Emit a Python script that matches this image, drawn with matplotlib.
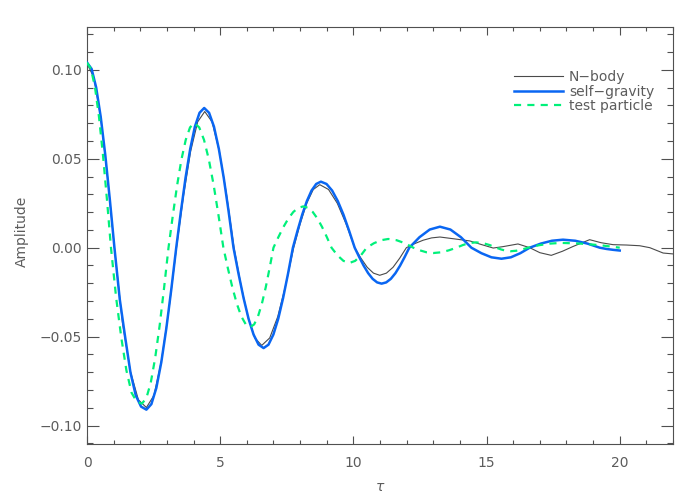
import matplotlib
matplotlib.use("Agg")
import matplotlib.pyplot as plt
from matplotlib.ticker import MultipleLocator, FuncFormatter

# ---- data ----
nbody_tau = [0.0, 0.258, 0.515, 0.773, 1.03, 1.33, 1.63, 1.93, 2.23,
             2.513, 2.795, 3.078, 3.36, 3.625, 3.89, 4.155, 4.42,
             4.695, 4.97, 5.245, 5.52, 5.78, 6.04, 6.30, 6.56,
             6.86, 7.16, 7.46, 7.76, 8.005, 8.25, 8.495, 8.74,
             9.068, 9.395, 9.723, 10.05, 10.285, 10.52, 10.755, 10.99,
             11.24, 11.49, 11.74, 11.99, 12.305, 12.62, 12.935, 13.25,
             13.87, 14.37, 14.8, 15.25, 15.62, 16.18, 16.62, 17.0, 17.43,
             17.85, 18.25, 18.87, 19.3, 19.75, 20.25, 20.75, 21.13, 21.63, 22.0]
nbody_amp = [0.1035, 0.0956, 0.0732, 0.0396, 0.0, -0.0420, -0.0695, -0.0855, -0.0898,
             -0.0830, -0.0635, -0.0344, 0.0, 0.0293, 0.0541, 0.0707, 0.0765,
             0.0707, 0.0541, 0.0293, 0.0, -0.0210, -0.0388, -0.0507, -0.0549,
             -0.0507, -0.0388, -0.0210, 0.0, 0.0135, 0.0250, 0.0327, 0.0354,
             0.0327, 0.0250, 0.0135, 0.0, -0.0059, -0.0110, -0.0143, -0.0155,
             -0.0143, -0.0110, -0.0059, 0.0, 0.0023, 0.0042, 0.0055, 0.0060,
             0.0048, 0.0038, 0.0018, -0.0002, 0.0006, 0.0021, 0.0, -0.0028, -0.0043,
             -0.0020, 0.0007, 0.0045, 0.0028, 0.0017, 0.0015, 0.0011, 0.0, -0.0030, -0.0035]

selfgrav_tau = [0.0, 0.172, 0.343, 0.515, 0.687, 0.858, 1.03,
                1.23, 1.43, 1.63, 1.83, 2.03, 2.23,
                2.417, 2.603, 2.79, 2.977, 3.163, 3.35,
                3.525, 3.70, 3.875, 4.05, 4.225, 4.40,
                4.583, 4.767, 4.95, 5.133, 5.317, 5.50,
                5.688, 5.877, 6.065, 6.253, 6.442, 6.63,
                6.813, 6.997, 7.18, 7.363, 7.547, 7.73,
                7.905, 8.08, 8.255, 8.43, 8.605, 8.78,
                8.992, 9.203, 9.415, 9.627, 9.838, 10.05,
                10.218, 10.387, 10.555, 10.723, 10.892, 11.06,
                11.233, 11.407, 11.58, 11.753, 11.927, 12.1,
                12.483, 12.867, 13.25, 13.643, 14.037, 14.43,
                14.807, 15.183, 15.56, 15.913, 16.267, 16.62,
                17.037, 17.453, 17.87, 18.33, 18.79, 19.25,
                19.5, 19.75, 20.0]
selfgrav_amp = [0.1040, 0.1005, 0.0901, 0.0735, 0.0520, 0.0269, 0.0,
                -0.0290, -0.0500, -0.0700, -0.0830, -0.0893, -0.0910,
                -0.0879, -0.0788, -0.0643, -0.0455, -0.0236, 0.0,
                0.0203, 0.0393, 0.0555, 0.0680, 0.0758, 0.0785,
                0.0758, 0.0680, 0.0555, 0.0393, 0.0203, 0.0,
                -0.0146, -0.0282, -0.0399, -0.0488, -0.0545, -0.0564,
                -0.0545, -0.0488, -0.0399, -0.0282, -0.0146, 0.0,
                0.0096, 0.0186, 0.0262, 0.0321, 0.0358, 0.0371,
                0.0358, 0.0321, 0.0262, 0.0186, 0.0096, 0.0,
                -0.0052, -0.0101, -0.0143, -0.0175, -0.0195, -0.0202,
                -0.0195, -0.0175, -0.0143, -0.0101, -0.0052, 0.0,
                0.0059, 0.0102, 0.0118, 0.0102, 0.0059, 0.0,
                -0.0031, -0.0054, -0.0062, -0.0054, -0.0031, 0.0,
                0.0023, 0.0039, 0.0045, 0.0039, 0.0023, 0.0,
                -0.0007, -0.0012, -0.0016]

testpart_tau = [0.0, 0.15, 0.30, 0.45, 0.60, 0.75, 0.90,
                1.093, 1.287, 1.48, 1.673, 1.867, 2.06,
                2.227, 2.393, 2.56, 2.727, 2.893, 3.06,
                3.222, 3.383, 3.545, 3.707, 3.868, 4.03,
                4.212, 4.393, 4.575, 4.757, 4.938, 5.12,
                5.288, 5.457, 5.625, 5.793, 5.962, 6.13,
                6.275, 6.42, 6.565, 6.71, 6.855, 7.0,
                7.187, 7.373, 7.56, 7.747, 7.933, 8.12,
                8.297, 8.473, 8.65, 8.827, 9.003, 9.18,
                9.403, 9.627, 9.85, 10.067, 10.283, 10.5,
                10.77, 11.04, 11.31, 11.623, 11.937, 12.25,
                12.5, 12.75, 13.0, 13.29, 13.58, 13.87,
                14.113, 14.357, 14.6, 14.857, 15.113, 15.37,
                15.547, 15.723, 15.9, 16.12, 16.34, 16.56,
                16.973, 17.387, 17.8, 18.533, 19.267, 20.0]
testpart_amp = [0.1040, 0.1005, 0.0901, 0.0735, 0.0520, 0.0269, 0.0,
                -0.0280, -0.0505, -0.0690, -0.0815, -0.0865, -0.0876,
                -0.0846, -0.0759, -0.0619, -0.0438, -0.0227, 0.0,
                0.0181, 0.0350, 0.0495, 0.0606, 0.0676, 0.0700,
                0.0676, 0.0606, 0.0495, 0.0350, 0.0181, 0.0,
                -0.0115, -0.0223, -0.0315, -0.0386, -0.0431, -0.0446,
                -0.0431, -0.0386, -0.0315, -0.0223, -0.0115, 0.0,
                0.0060, 0.0116, 0.0164, 0.0201, 0.0224, 0.0232,
                0.0224, 0.0201, 0.0164, 0.0116, 0.0060, 0.0,
                -0.0043, -0.0074, -0.0086, -0.0074, -0.0043, 0.0,
                0.0025, 0.0042, 0.0049, 0.0042, 0.0025, 0.0,
                -0.0015, -0.0026, -0.0030, -0.0026, -0.0015, 0.0,
                0.0015, 0.0026, 0.0030, 0.0026, 0.0015, 0.0,
                -0.0010, -0.0017, -0.0020, -0.0017, -0.0010, 0.0,
                0.0014, 0.0023, 0.0027, 0.0023, 0.0014, 0.0]

series_labels = ["N\u2212body", "self\u2212gravity", "test particle"]
xlabel = "\u03c4"
ylabel = "Amplitude"

# ---- figure ----
plt.rcParams['font.family'] = ['DejaVu Sans']
TXT = '#5c5c5c'
AX = '#505050'

fig = plt.figure(figsize=(7, 5), dpi=100)
ax = fig.add_axes([87/700, 56/500, 586/700, 417/500])

ax.plot(nbody_tau, nbody_amp, color='#4a4a4a', lw=0.8, label=series_labels[0], zorder=2)
ax.plot(selfgrav_tau, selfgrav_amp, color='#0a66f2', lw=1.8, label=series_labels[1], zorder=3)
ax.plot(testpart_tau, testpart_amp, color='#00f07a', lw=1.6, dashes=(3.2, 2.8),
        label=series_labels[2], zorder=4)

ax.set_xlim(0, 22)
ax.set_ylim(-0.1103, 0.124)

ax.xaxis.set_major_locator(MultipleLocator(5))
ax.xaxis.set_minor_locator(MultipleLocator(1))
ax.yaxis.set_major_locator(MultipleLocator(0.05))
ax.yaxis.set_minor_locator(MultipleLocator(0.01))
ax.yaxis.set_major_formatter(FuncFormatter(lambda v, p: ("%.2f" % v).replace('-', '\u2212') if abs(v) > 1e-9 else "0.00"))
ax.xaxis.set_major_formatter(FuncFormatter(lambda v, p: "%d" % round(v)))

ax.tick_params(axis='x', which='major', direction='in', length=5.8, width=0.8,
               color=AX, top=True, bottom=True, labelsize=10, labelcolor=TXT, pad=8.5)
ax.tick_params(axis='x', which='minor', direction='in', length=2.9, width=0.8,
               color=AX, top=True, bottom=True)
ax.tick_params(axis='y', which='major', direction='in', length=8.4, width=0.8,
               color=AX, left=True, right=True, labelsize=10, labelcolor=TXT, pad=3.5)
ax.tick_params(axis='y', which='minor', direction='in', length=4.2, width=0.8,
               color=AX, left=True, right=True)
for s in ax.spines.values():
    s.set_color(AX)
    s.set_linewidth(0.8)

ax.set_xlabel(xlabel, fontsize=10, color=TXT, style='italic', va='center')
ax.xaxis.set_label_coords(0.5, -0.103)
ax.set_ylabel(ylabel, fontsize=10, color=TXT, va='center')
ax.yaxis.set_label_coords(-0.111, 0.51)

leg = ax.legend(loc='upper left', bbox_to_anchor=(0.729, 0.897), frameon=False,
                fontsize=10, handlelength=3.5, handletextpad=0.45, labelspacing=0.05,
                borderpad=0, borderaxespad=0)
for t in leg.get_texts():
    t.set_color(TXT)

fig.savefig("out.png", dpi=100)
